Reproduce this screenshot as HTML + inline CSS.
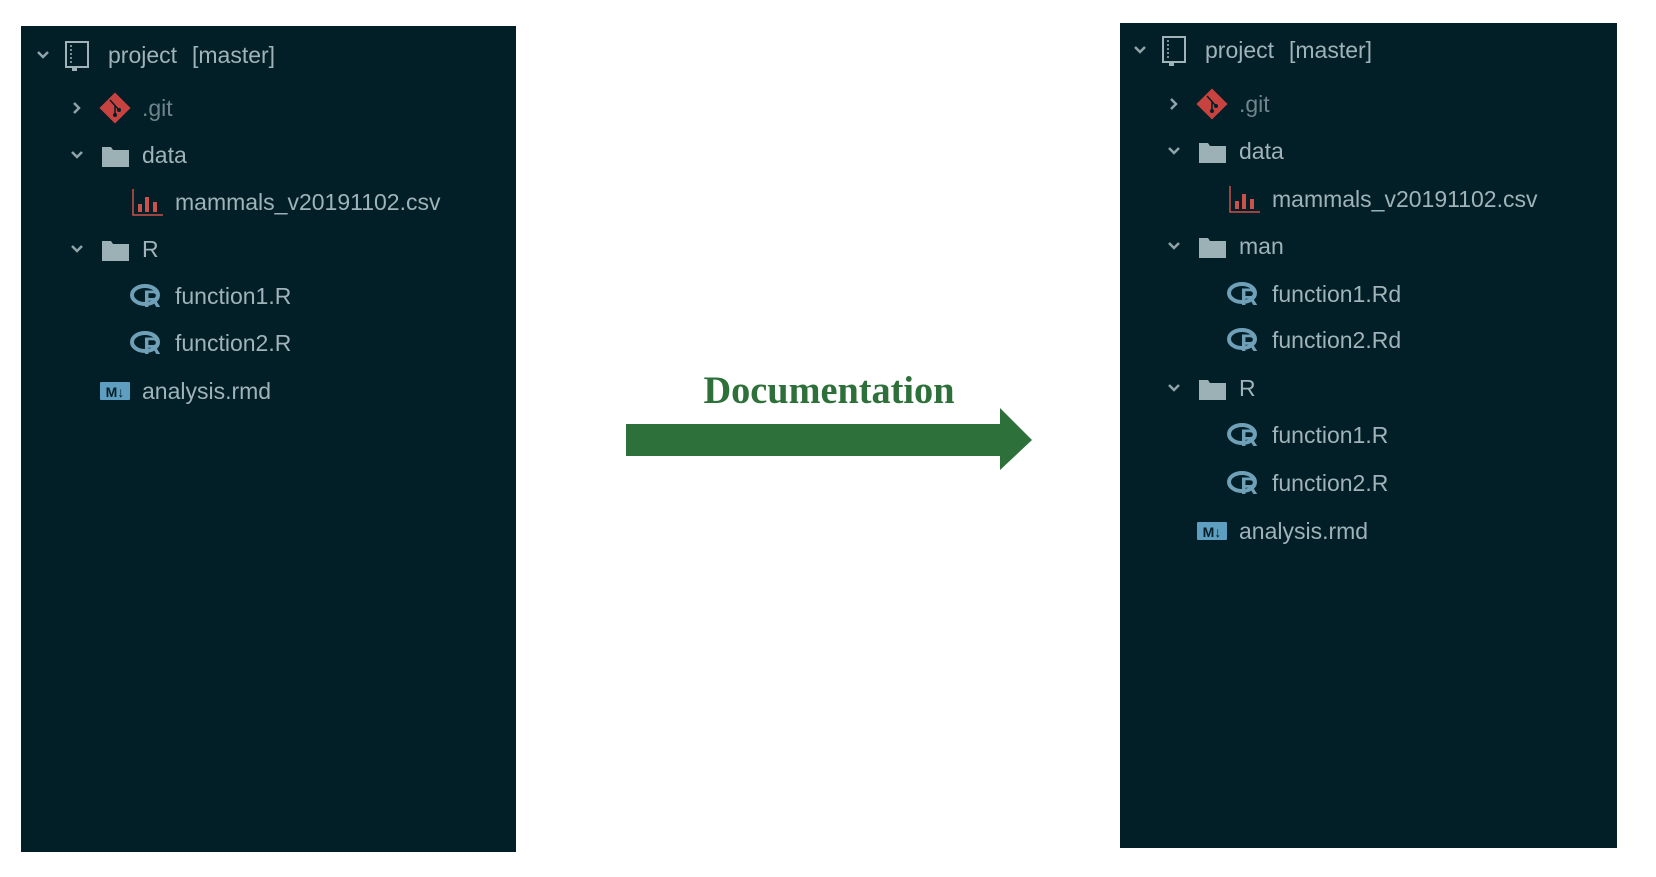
<!DOCTYPE html>
<html><head><meta charset="utf-8"><style>
html,body{margin:0;padding:0;background:#fff;}
svg{display:block;}
.t{font-family:"Liberation Sans",sans-serif;font-size:23px;fill:#9fb3b8;white-space:pre;}
.g{fill:#6f858b;}
</style></head><body>
<svg width="1656" height="877" viewBox="0 0 1656 877" xmlns="http://www.w3.org/2000/svg">
<defs>
<g id="cd"><polyline points="-5,-3 0,2 5,-3" fill="none" stroke="#8fa3a8" stroke-width="2.5"/></g>
<g id="cr"><polyline points="-3,-5 2,0 -3,5" fill="none" stroke="#8fa3a8" stroke-width="2.5"/></g>
<g id="book"><rect x="-10" y="-13" width="22" height="25" fill="none" stroke="#9fb3b8" stroke-width="2"/><line x1="-5" y1="-10" x2="-5" y2="8" stroke="#9fb3b8" stroke-width="1.5" stroke-dasharray="2,2"/><rect x="-4" y="11" width="5" height="5" fill="#9fb3b8"/></g>
<g id="git"><rect x="-11" y="-11" width="22" height="22" fill="#c8423f" transform="rotate(45)"/><line x1="-5" y1="-8" x2="4" y2="2" stroke="#021e26" stroke-width="1.5"/><line x1="0" y1="-3" x2="0" y2="7" stroke="#021e26" stroke-width="1.5"/><circle cx="0" cy="7" r="2" fill="#021e26"/><circle cx="4" cy="2" r="2" fill="#021e26"/></g>
<g id="fold"><path d="M-13,-10 h9 l2,3 h16 v17 h-27 z" fill="#9bb1b6"/></g>
<g id="csv"><polyline points="-15,-13 -15,13 15,13" fill="none" stroke="#c9524c" stroke-width="1.5"/><rect x="-10" y="2" width="4" height="8" fill="#c9524c"/><rect x="-3" y="-5" width="4" height="15" fill="#c9524c"/><rect x="5" y="0" width="4" height="10" fill="#c9524c"/></g>
<g id="r"><ellipse cx="-3" cy="-1" rx="13" ry="9" fill="none" stroke="#6fa0b8" stroke-width="4"/><text x="4" y="11" font-family="Liberation Sans,sans-serif" font-weight="bold" font-size="24" fill="#6fa0b8" text-anchor="middle">R</text></g>
<g id="md"><rect x="-15" y="-9" width="30" height="18" rx="1" fill="#5e9ec0"/><text x="0" y="6" font-family="Liberation Sans,sans-serif" font-weight="bold" font-size="14" fill="#021e26" text-anchor="middle">M↓</text></g>
</defs>

<rect x="21" y="26" width="495" height="826" fill="#021e26"/>
<g>
<use href="#cd" x="43" y="55"/><use href="#book" x="76" y="55"/><text class="t" x="108" y="63">project<tspan x="192">[master]</tspan></text>
<use href="#cr" x="77" y="108"/><use href="#git" x="115" y="108"/><text class="t g" x="142" y="116">.git</text>
<use href="#cd" x="77" y="155"/><use href="#fold" x="115" y="157"/><text class="t" x="142" y="163">data</text>
<use href="#csv" x="148" y="202"/><text class="t" x="175" y="210">mammals_v20191102.csv</text>
<use href="#cd" x="77" y="249"/><use href="#fold" x="115" y="251"/><text class="t" x="142" y="257">R</text>
<use href="#r" x="148" y="296"/><text class="t" x="175" y="304">function1.R</text>
<use href="#r" x="148" y="343"/><text class="t" x="175" y="351">function2.R</text>
<use href="#md" x="115" y="391"/><text class="t" x="142" y="399">analysis.rmd</text>
</g>

<text x="829" y="403" text-anchor="middle" font-family="Liberation Serif,serif" font-weight="bold" font-size="39" fill="#2e703a" textLength="251" lengthAdjust="spacingAndGlyphs">Documentation</text>
<polygon points="626,424 1000,424 1000,408 1032,440 1000,470 1000,456 626,456" fill="#2e703a"/>

<rect x="1120" y="23" width="497" height="825" fill="#021e26"/>
<g transform="translate(1097,0)">
<use href="#cd" x="43" y="50"/><use href="#book" x="76" y="50"/><text class="t" x="108" y="58">project<tspan x="192">[master]</tspan></text>
<use href="#cr" x="77" y="104"/><use href="#git" x="115" y="104"/><text class="t g" x="142" y="112">.git</text>
<use href="#cd" x="77" y="151"/><use href="#fold" x="115" y="153"/><text class="t" x="142" y="159">data</text>
<use href="#csv" x="148" y="199"/><text class="t" x="175" y="207">mammals_v20191102.csv</text>
<use href="#cd" x="77" y="246"/><use href="#fold" x="115" y="248"/><text class="t" x="142" y="254">man</text>
<use href="#r" x="148" y="294"/><text class="t" x="175" y="302">function1.Rd</text>
<use href="#r" x="148" y="340"/><text class="t" x="175" y="348">function2.Rd</text>
<use href="#cd" x="77" y="388"/><use href="#fold" x="115" y="390"/><text class="t" x="142" y="396">R</text>
<use href="#r" x="148" y="435"/><text class="t" x="175" y="443">function1.R</text>
<use href="#r" x="148" y="483"/><text class="t" x="175" y="491">function2.R</text>
<use href="#md" x="115" y="531"/><text class="t" x="142" y="539">analysis.rmd</text>
</g>
</svg>
</body></html>
